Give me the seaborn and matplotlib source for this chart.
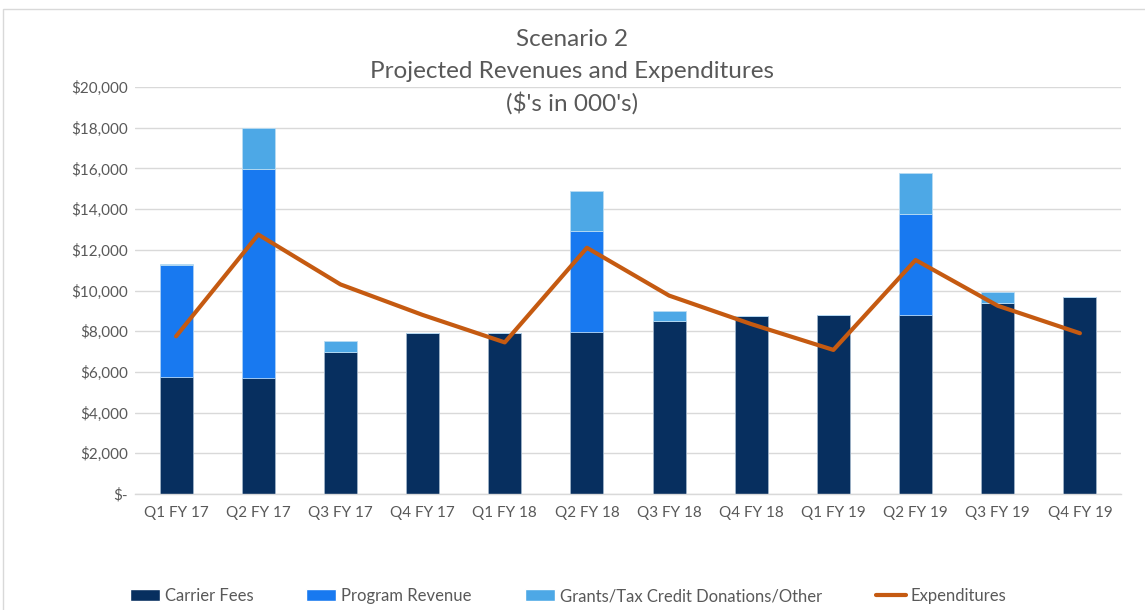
import matplotlib
matplotlib.use("Agg")
import matplotlib.pyplot as plt
import seaborn as sns
import numpy as np
import pandas as pd
from matplotlib.patches import Rectangle, Patch
from matplotlib.lines import Line2D

quarters = ["Q1 FY 17", "Q2 FY 17", "Q3 FY 17", "Q4 FY 17",
            "Q1 FY 18", "Q2 FY 18", "Q3 FY 18", "Q4 FY 18",
            "Q1 FY 19", "Q2 FY 19", "Q3 FY 19", "Q4 FY 19"]
carrier_fees = [5750, 5700, 7000, 7900, 7900, 7950, 8500, 8750, 8800, 8800, 9400, 9700]
program_revenue = [5500, 10250, 0, 0, 0, 4950, 0, 0, 0, 4950, 0, 0]
grants_other = [50, 2030, 530, 0, 0, 2000, 480, 0, 0, 2030, 520, 0]
expenditures = [7750, 12750, 10300, 8800, 7450, 12100, 9750, 8350, 7080, 11500, 9250, 7900]

yticks = [0, 2000, 4000, 6000, 8000, 10000, 12000, 14000, 16000, 18000, 20000]
ytick_labels = ["$-", "$2,000", "$4,000", "$6,000", "$8,000", "$10,000",
                "$12,000", "$14,000", "$16,000", "$18,000", "$20,000"]

c_carrier = "#072F5F"
c_program = "#1879F0"
c_grants = "#4DA8E6"
c_exp = "#C55A11"
txt = "#595959"

sns.set_theme(style="white")
plt.rcParams["font.family"] = ["Lato", "DejaVu Sans"]

fig = plt.figure(figsize=(11.45, 6.1), dpi=100)
ax = fig.add_axes([135 / 1145, (610 - 494) / 610, (1121 - 135) / 1145, (494 - 87) / 610])

df = pd.DataFrame({"q": quarters, "carrier": carrier_fees,
                   "program": program_revenue, "grants": grants_other,
                   "exp": expenditures})
df["b2"] = df["carrier"] + df["program"]

bw = 0.4
sns.barplot(data=df, x="q", y="carrier", color=c_carrier, width=bw, ax=ax,
            saturation=1, edgecolor="#9fb3c8", linewidth=0.6, zorder=2)
sns.barplot(data=df, x="q", y="program", bottom=df["carrier"], color=c_program,
            width=bw, ax=ax, saturation=1, edgecolor="#a9cff5", linewidth=0.6, zorder=2)
sns.barplot(data=df, x="q", y="grants", bottom=df["b2"], color=c_grants,
            width=bw, ax=ax, saturation=1, edgecolor="#b9dcf3", linewidth=0.6, zorder=2)
sns.lineplot(data=df, x="q", y="exp", sort=False, color=c_exp, linewidth=3,
             ax=ax, zorder=3)

ax.set_ylim(0, 20000)
ax.set_xlim(-0.5, len(quarters) - 0.5)
ax.set_yticks(yticks)
ax.set_yticklabels(ytick_labels)
ax.set_xlabel("")
ax.set_ylabel("")
ax.yaxis.grid(True, color="#d9d9d9", linewidth=1)
ax.set_axisbelow(True)
for s in ["top", "right", "left"]:
    ax.spines[s].set_visible(False)
ax.spines["bottom"].set_color("#d9d9d9")
ax.spines["bottom"].set_linewidth(1)
ax.tick_params(axis="y", length=0, labelsize=11, labelcolor=txt, pad=5)
ax.tick_params(axis="x", which="major", length=0, labelsize=11, labelcolor=txt, pad=9)
ax.set_xticks(np.arange(-0.5, len(quarters), 1), minor=True)
ax.tick_params(axis="x", which="minor", length=5, color="#d9d9d9", width=1)

fig.text(0.5, 1 - 40 / 610, "Scenario 2", ha="center", va="center", fontsize=17.5, color=txt)
fig.text(0.5, 1 - 71 / 610, "Projected Revenues and Expenditures", ha="center", va="center",
         fontsize=17.5, color=txt)
fig.text(0.5, 1 - 103 / 610, "($'s in 000's)", ha="center", va="center", fontsize=17.5, color=txt)

handles = [Patch(facecolor=c_carrier), Patch(facecolor=c_program),
           Patch(facecolor=c_grants), Line2D([0], [0], color=c_exp, linewidth=3)]
labels = ["Carrier Fees", "Program Revenue", "Grants/Tax Credit Donations/Other", "Expenditures"]
fig.legend(handles, labels, loc="center", bbox_to_anchor=(568 / 1145, 1 - 596 / 610), ncol=4,
           frameon=False, fontsize=12, labelcolor=txt, handlelength=1.8, handleheight=0.7,
           columnspacing=3.2, handletextpad=0.3)

fig.patches.append(Rectangle((3 / 1145, -0.05), 1.1, 1 - 9 / 610 + 0.05,
                             transform=fig.transFigure, fill=False,
                             edgecolor="#d9d9d9", linewidth=1))

fig.savefig("out.png", dpi=100)
